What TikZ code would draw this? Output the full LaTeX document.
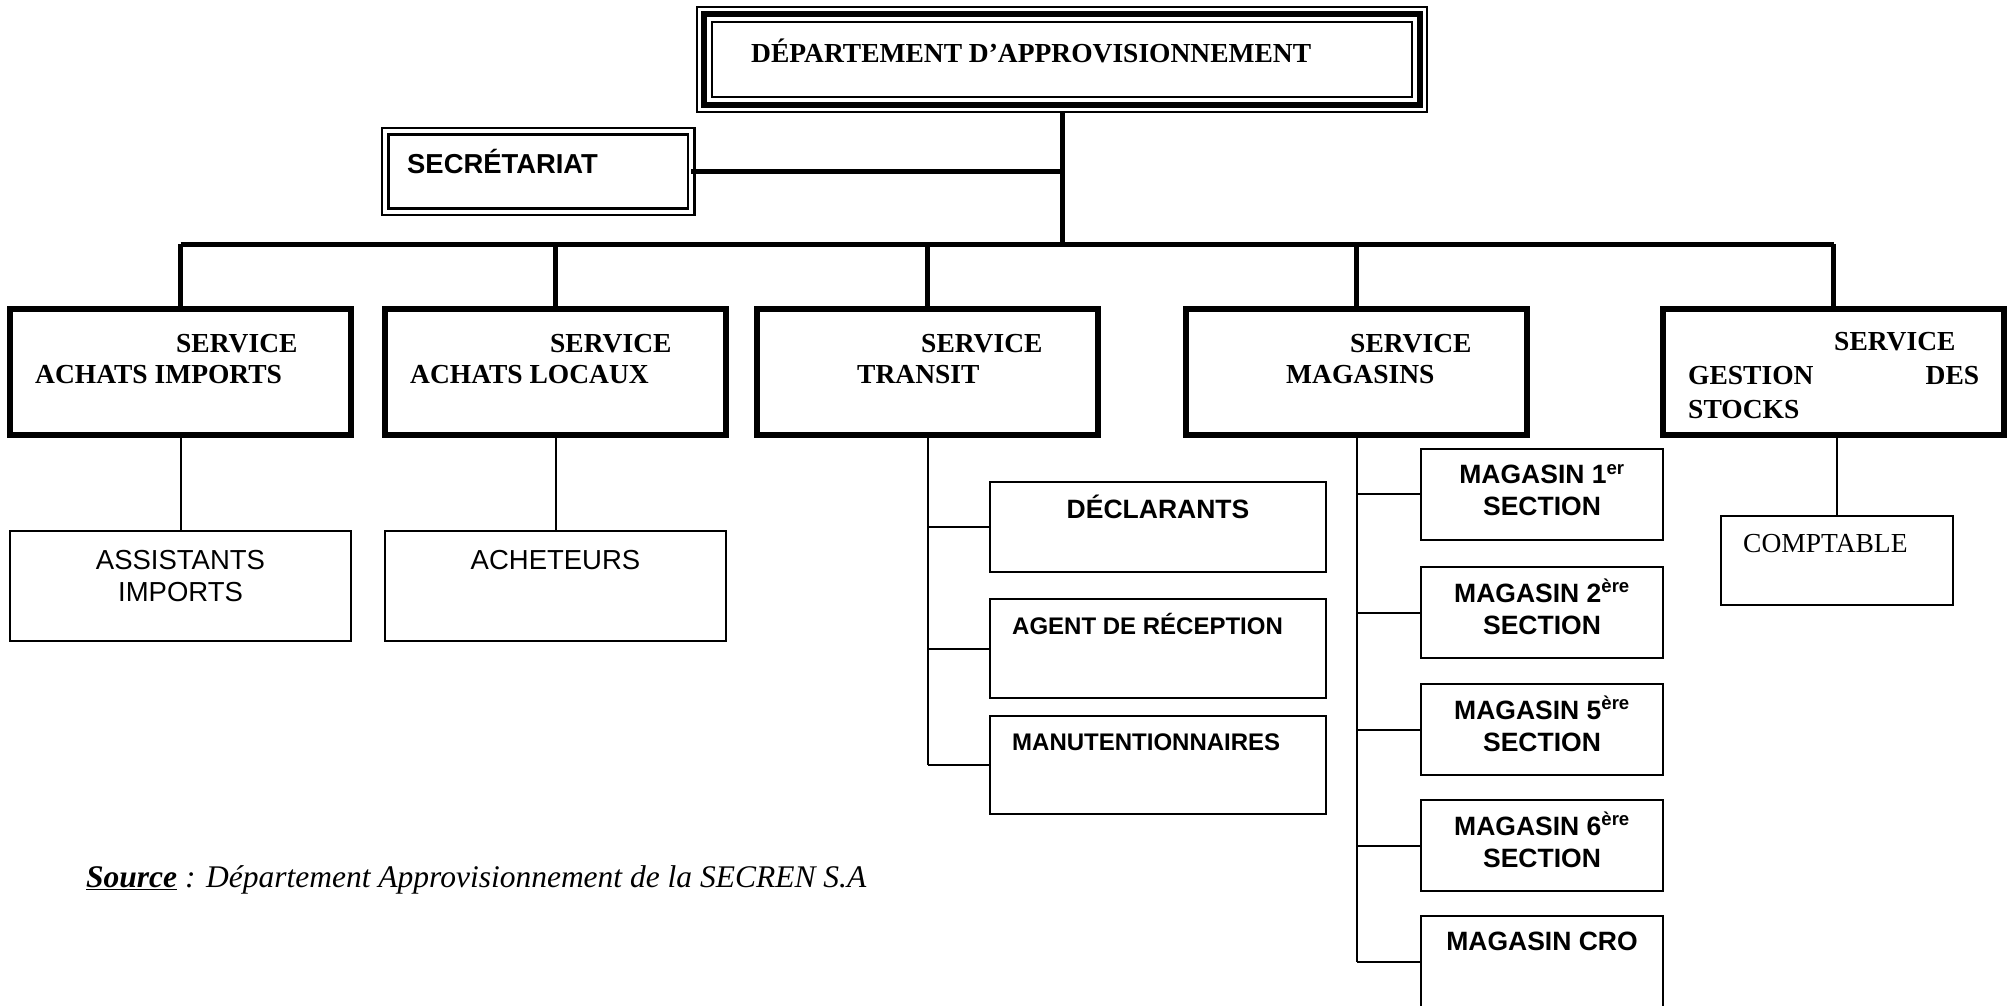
\documentclass[tikz,border=0pt]{standalone}
\usepackage{fontspec}
\setmainfont{Liberation Serif}
\newfontfamily\arialfont{Liberation Sans}
\begin{document}
\begin{tikzpicture}[x=1pt,y=-1pt,
  bx/.style={draw, line width=2pt, inner sep=0pt, outer sep=0pt},
  svc/.style={bx, line width=5.5pt, minimum width=341pt, minimum height=126pt},
  sub/.style={bx, minimum width=341pt, minimum height=110pt},
  tbox/.style={bx, minimum width=336pt},
  mbox/.style={bx, minimum width=242pt, minimum height=91pt},
  trunk/.style={line width=5pt},
  conn/.style={line width=2pt},
  tb/.style={font=\fontsize{27.5}{32}\selectfont\bfseries, inner sep=0pt, anchor=base west},
  tr/.style={font=\fontsize{27.5}{32}\selectfont, inner sep=0pt, anchor=base west},
  ab/.style={font=\arialfont\bfseries\fontsize{26.5}{30}\selectfont, inner sep=0pt, anchor=base},
  abs/.style={font=\arialfont\bfseries\fontsize{24}{28}\selectfont, inner sep=0pt, anchor=base west},
  ar/.style={font=\arialfont\fontsize{27.5}{32}\selectfont, inner sep=0pt, anchor=base},
]
\useasboundingbox (0,0) rectangle (2011,1005);
\clip (0,0) rectangle (2011,1005);

% title
\node[bx, minimum width=730pt, minimum height=105pt] (dept) at (1062,59.5) {};
\draw[line width=6pt] ([shift={(7,7)}]dept.north west) rectangle ([shift={(-7,-7)}]dept.south east);
\draw[line width=2pt] ([shift={(15,15)}]dept.north west) rectangle ([shift={(-15,-15)}]dept.south east);
\node[tb] (deptt) at (751,62) {DÉPARTEMENT D’APPROVISIONNEMENT};

% secretariat
\node[draw, double, double distance=4pt, line width=2.5pt, inner sep=0pt, outer sep=0pt,
      minimum width=306pt, minimum height=80.5pt] (sec) at (538,171.25) {};
\node[font=\arialfont\bfseries\fontsize{27.4}{32}\selectfont, inner sep=0pt, anchor=base west] (sect) at (407,173) {SECRÉTARIAT};

% services
\node[svc] (s1) at (180.5,372) {};
\node[svc] (s2) at (555.5,372) {};
\node[svc] (s3) at (927.5,372) {};
\node[svc] (s4) at (1356.5,372) {};
\node[svc] (s5) at (1833.5,372) {};

\node[tb] (s1a) at ([shift={(166,43)}]s1.north west) {SERVICE};
\node[tb] (s1b) at ([shift={(25,74)}]s1.north west) {ACHATS IMPORTS};
\node[tb] (s2a) at ([shift={(165,43)}]s2.north west) {SERVICE};
\node[tb] (s2b) at ([shift={(25,74)}]s2.north west) {ACHATS LOCAUX};
\node[tb] (s3a) at ([shift={(164,43)}]s3.north west) {SERVICE};
\node[tb] (s3b) at ([shift={(100,74)}]s3.north west) {TRANSIT};
\node[tb] (s4a) at ([shift={(164,43)}]s4.north west) {SERVICE};
\node[tb] (s4b) at ([shift={(100,74)}]s4.north west) {MAGASINS};
\node[tb] (s5a) at ([shift={(171,41)}]s5.north west) {SERVICE};
\node[tb] (s5b) at ([shift={(25,75)}]s5.north west) {\makebox[291pt][l]{GESTION\hfill DES}};
\node[tb] (s5c) at ([shift={(25,109)}]s5.north west) {STOCKS};

% connectors top
\coordinate (bus) at (0,244);
\draw[trunk] (dept.south) -- (dept.south |- bus);
\draw[trunk] (sec.east) -- (sec.east -| dept.south);
\draw[trunk] (s1.north |- bus) -- (s5.north |- bus);
\foreach \s in {s1,s2,s3,s4,s5} \draw[trunk] (\s.north |- bus) -- (\s.north);

% achats subordinates
\node[sub] (a1) at (180.5,586) {};
\node[sub] (a2) at (555.5,586) {};
\draw[conn] (s1.south) -- (a1.north);
\draw[conn] (s2.south) -- (a2.north);
\node[ar] (a1a) at (180.5,569) {ASSISTANTS};
\node[ar] (a1b) at (180.5,601) {IMPORTS};
\node[ar] (a2a) at (555.5,569) {ACHETEURS};

% transit subordinates
\node[tbox, minimum height=90pt] (t1) at (1158,527) {};
\node[tbox, minimum height=99pt] (t2) at (1158,648.5) {};
\node[tbox, minimum height=98pt] (t3) at (1158,765) {};
\draw[conn] (s3.south) -- (s3.south |- t3.west);
\foreach \t in {t1,t2,t3} \draw[conn] (s3.south |- \t.west) -- (\t.west);
\node[ab] (t1t) at (1158,518) {DÉCLARANTS};
\node[abs] (t2t) at (1012,634) {AGENT DE RÉCEPTION};
\node[abs] (t3t) at (1012,750) {MANUTENTIONNAIRES};

% magasins
\node[mbox] (m1) at (1542,494) {};
\node[mbox] (m2) at (1542,612.5) {};
\node[mbox] (m3) at (1542,729.5) {};
\node[mbox] (m4) at (1542,845.5) {};
\node[mbox, minimum height=92pt] (m5) at (1542,962) {};
\draw[conn] (s4.south) -- (s4.south |- m5.west);
\foreach \m in {m1,m2,m3,m4,m5} \draw[conn] (s4.south |- \m.west) -- (\m.west);
\node[ab] (m1a) at ([shift={(0,35)}]m1.north) {MAGASIN 1\textsuperscript{er}};
\node[ab] (m1b) at ([shift={(0,67)}]m1.north) {SECTION};
\node[ab] (m2a) at ([shift={(0,35)}]m2.north) {MAGASIN 2\textsuperscript{ère}};
\node[ab] (m2b) at ([shift={(0,67)}]m2.north) {SECTION};
\node[ab] (m3a) at ([shift={(0,35)}]m3.north) {MAGASIN 5\textsuperscript{ère}};
\node[ab] (m3b) at ([shift={(0,67)}]m3.north) {SECTION};
\node[ab] (m4a) at ([shift={(0,35)}]m4.north) {MAGASIN 6\textsuperscript{ère}};
\node[ab] (m4b) at ([shift={(0,67)}]m4.north) {SECTION};
\node[ab] (m5a) at ([shift={(0,34)}]m5.north) {MAGASIN CRO};

% gestion des stocks
\node[bx, minimum width=232pt, minimum height=89pt] (comp) at (1837,560.5) {};
\draw[conn] (comp.north |- s5.south) -- (comp.north);
\node[tr] (compt) at (1743,552) {COMPTABLE};

% source
\node[font=\fontsize{31.5}{36}\selectfont\itshape, inner sep=0pt, anchor=base west] (src) at (86,887)
  {\underline{\textbf{Source}} : Département Approvisionnement de la SECREN S.A};
\end{tikzpicture}
\end{document}
